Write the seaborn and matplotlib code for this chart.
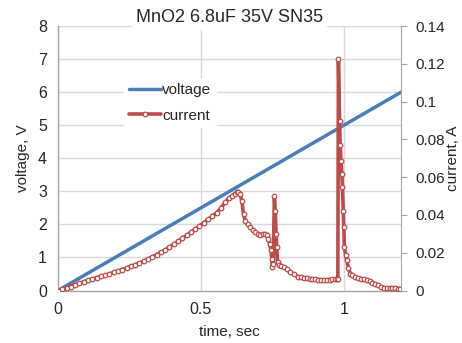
import matplotlib
matplotlib.use("Agg")
import matplotlib.pyplot as plt
import seaborn as sns
import pandas as pd

title = "MnO2 6.8uF 35V SN35"

volt_time = [0.0, 1.2]
voltage = [0.0, 6.0]

cur_time = [0.000, 0.015, 0.030, 0.045, 0.060, 0.075, 0.090, 0.105, 0.120, 0.135,
            0.150, 0.165, 0.180, 0.195, 0.210, 0.225, 0.240, 0.255, 0.270, 0.285,
            0.300, 0.315, 0.330, 0.345, 0.360, 0.375, 0.390, 0.405, 0.420, 0.435,
            0.450, 0.465, 0.480, 0.495, 0.510, 0.525, 0.540, 0.555, 0.570, 0.585,
            0.597, 0.608, 0.618, 0.626, 0.631, 0.637, 0.643, 0.649, 0.655, 0.663,
            0.672, 0.681, 0.690, 0.698, 0.707, 0.716, 0.725, 0.731, 0.736, 0.741,
            0.745, 0.748, 0.750, 0.753, 0.757, 0.760, 0.763, 0.765, 0.768, 0.772,
            0.780, 0.789, 0.800, 0.812, 0.826, 0.841, 0.850, 0.860, 0.870, 0.880,
            0.890, 0.900, 0.910, 0.920, 0.930, 0.940, 0.950, 0.960, 0.968, 0.975,
            0.979, 0.981, 0.985, 0.987, 0.990, 0.993, 0.995, 0.998, 1.000, 1.002,
            1.006, 1.010, 1.016, 1.022, 1.030, 1.040, 1.050, 1.060, 1.070, 1.080,
            1.090, 1.100, 1.110, 1.120, 1.130, 1.140, 1.150, 1.160, 1.170, 1.180,
            1.190, 1.197]
current = [0.0000, 0.0006, 0.0013, 0.0021, 0.0030, 0.0038, 0.0046, 0.0054, 0.0061, 0.0068,
           0.0075, 0.0081, 0.0088, 0.0096, 0.0103, 0.0111, 0.0119, 0.0128, 0.0136, 0.0145,
           0.0155, 0.0166, 0.0178, 0.0190, 0.0202, 0.0215, 0.0230, 0.0245, 0.0260, 0.0276,
           0.0292, 0.0308, 0.0325, 0.0342, 0.0359, 0.0376, 0.0393, 0.0412, 0.0437, 0.0467,
           0.0488, 0.0502, 0.0512, 0.0520, 0.0522, 0.0510, 0.0476, 0.0405, 0.0370, 0.0350,
           0.0335, 0.0322, 0.0310, 0.0300, 0.0295, 0.0298, 0.0300, 0.0292, 0.0274, 0.0245,
           0.0213, 0.0165, 0.0125, 0.0140, 0.0500, 0.0420, 0.0300, 0.0230, 0.0150, 0.0135,
           0.0130, 0.0125, 0.0112, 0.0099, 0.0085, 0.0073, 0.0069, 0.0066, 0.0064, 0.0062,
           0.0061, 0.0060, 0.0058, 0.0057, 0.0056, 0.0057, 0.0058, 0.0059, 0.0060, 0.0060,
           0.0062, 0.1225, 0.0896, 0.0773, 0.0686, 0.0616, 0.0546, 0.0423, 0.0335, 0.0230,
           0.0190, 0.0160, 0.0120, 0.0090, 0.0080, 0.0072, 0.0067, 0.0063, 0.0059, 0.0055,
           0.0049, 0.0042, 0.0034, 0.0027, 0.0020, 0.0015, 0.0013, 0.0012, 0.0011, 0.0011,
           0.0010, 0.0010]

x_ticks = [0, 0.5, 1]
x_tick_labels = ["0", "0.5", "1"]
y_ticks = [0, 1, 2, 3, 4, 5, 6, 7, 8]
y2_ticks = [0, 0.02, 0.04, 0.06, 0.08, 0.1, 0.12, 0.14]
y2_tick_labels = ["0", "0.02", "0.04", "0.06", "0.08", "0.1", "0.12", "0.14"]

sns.set_style("white")
plt.rcParams['font.family'] = ['Liberation Sans', 'DejaVu Sans']
txt = '#262626'
grid_c = '#d9d9d9'
axis_c = '#a6a6a6'
blue = '#4a7ebb'
red = '#be4b48'

fig = plt.figure(figsize=(4.62, 3.43), dpi=100)
ax = fig.add_axes([0.1255, 0.153, 0.7425, 0.771])

dv = pd.DataFrame({"t": volt_time, "v": voltage})
dc = pd.DataFrame({"t": cur_time, "i": current})

sns.lineplot(data=dv, x="t", y="v", ax=ax, color=blue, linewidth=2.5, label="voltage", legend=False)
ax.set_xlim(0, 1.2)
ax.set_ylim(0, 8)
ax.set_xticks(x_ticks)
ax.set_xticklabels(x_tick_labels)
ax.set_yticks(y_ticks)
ax.grid(True, color=grid_c, linewidth=1)
ax.set_axisbelow(True)
for s in ['top', 'right']:
    ax.spines[s].set_visible(False)
for s in ['left', 'bottom']:
    ax.spines[s].set_color(axis_c)
    ax.spines[s].set_linewidth(1)
ax.tick_params(axis='both', length=0, labelsize=11.5, colors=txt, pad=8)
ax.set_xlabel("time, sec", fontsize=11, color=txt, labelpad=6)
ax.set_ylabel("voltage, V", fontsize=11, color=txt, labelpad=6)

ax2 = ax.twinx()
sns.lineplot(data=dc, x="t", y="i", ax=ax2, color=red, linewidth=2.6, marker='o',
             markersize=3.3, markerfacecolor='white', markeredgecolor=red,
             markeredgewidth=0.9, label="current", legend=False)
ax2.set_ylim(0, 0.14)
ax2.set_yticks(y2_ticks)
ax2.set_yticklabels(y2_tick_labels)
for s in ['top', 'left', 'bottom']:
    ax2.spines[s].set_visible(False)
ax2.spines['right'].set_color(axis_c)
ax2.tick_params(axis='y', length=4, color=axis_c, labelsize=11, colors=txt, pad=6)
ax2.set_ylabel("current, A", fontsize=11, color=txt, labelpad=1)

h1, l1 = ax.get_legend_handles_labels()
h2, l2 = ax2.get_legend_handles_labels()
leg = ax2.legend(h1 + h2, l1 + l2, loc='upper left', bbox_to_anchor=(0.17, 0.83),
                 frameon=True, fontsize=11, handlelength=2.1, handletextpad=0.1,
                 labelspacing=0.75, borderpad=0.3, numpoints=1)
leg.get_frame().set_facecolor('white')
leg.get_frame().set_edgecolor('white')
leg.get_frame().set_alpha(1)
for t in leg.get_texts():
    t.set_color(txt)

ax.set_title(title, fontsize=13, color=txt, pad=-2,
             bbox=dict(facecolor='white', edgecolor='none', pad=3))
ax.title.set_zorder(10)

fig.savefig("out.png", dpi=100)
